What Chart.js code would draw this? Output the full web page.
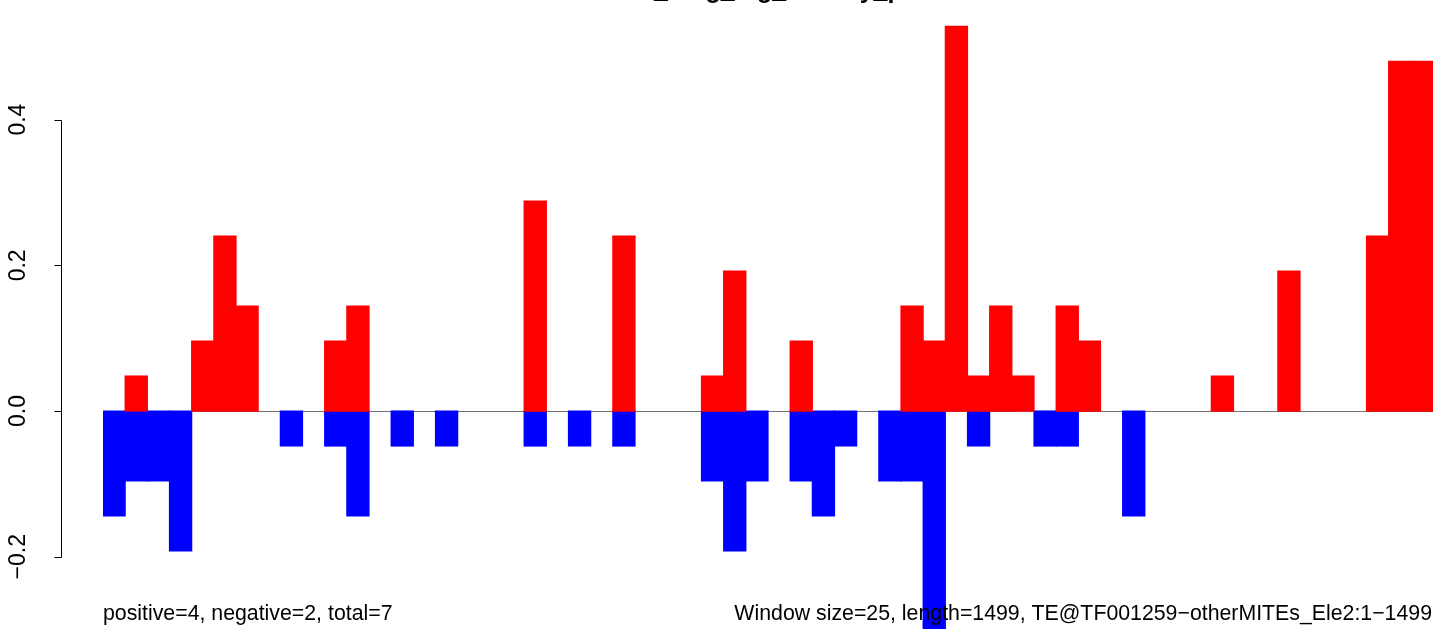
<!DOCTYPE html>
<html>
<head>
<meta charset="utf-8">
<script src="https://cdn.jsdelivr.net/npm/chart.js@4/dist/chart.umd.min.js"></script>
<style>
  html, body { margin: 0; padding: 0; background: #fff; }
  #wrap { width: 1436px; height: 629px; position: relative; }
</style>
</head>
<body>
<div id="wrap"><canvas id="c" width="1436" height="629"></canvas></div>
<script>
/* ---------- data ---------- */
const windowSize = 25;
const seqLength = 1499;
const windowStarts = Array.from({ length: 60 }, (_, i) => i * windowSize + 1);

// positive (red) per window
const positive = [
  0, 0.048, 0, 0, 0.096, 0.24, 0.144, 0, 0, 0,
  0.096, 0.144, 0, 0, 0, 0, 0, 0, 0, 0.288,
  0, 0, 0, 0.24, 0, 0, 0, 0.048, 0.192, 0,
  0, 0.096, 0, 0, 0, 0, 0.144, 0.096, 0.528, 0.048,
  0.144, 0.048, 0, 0.144, 0.096, 0, 0, 0, 0, 0,
  0.048, 0, 0, 0.192, 0, 0, 0, 0.24, 0.48, 0.48,
];
// negative (blue) per window
const negative = [
  -0.144, -0.096, -0.096, -0.192, 0, 0, 0, 0, -0.048, 0,
  -0.048, -0.144, 0, -0.048, 0, -0.048, 0, 0, 0, -0.048,
  0, -0.048, 0, -0.048, 0, 0, 0, -0.096, -0.192, -0.096,
  0, -0.096, -0.144, -0.048, 0, -0.096, -0.096, -0.336, 0, -0.048,
  0, 0, -0.048, -0.048, 0, 0, -0.144, 0, 0, 0,
  0, 0, 0, 0, 0, 0, 0, 0, 0, 0,
];

const yTicks = [-0.2, 0, 0.2, 0.4];
const tickLabels = ["\u22120.2", "0.0", "0.2", "0.4"];
const titleText = "Ele2_long_tag_density_plot";
const leftNote = "positive=4, negative=2, total=7";
const rightNote = `Window size=${windowSize}, length=${seqLength}, TE@TF001259\u2212otherMITEs_Ele2:1\u2212${seqLength}`;

const FONT = '"Liberation Sans", Arial, Helvetica, sans-serif';
const noZero = (arr) => arr.map((v) => (v === 0 ? null : v));

/* ---------- decorations (R base-graphics look) ---------- */
const rDecor = {
  id: "rDecor",
  beforeDatasetsDraw(chart) {
    const { ctx, chartArea: a, scales: { y } } = chart;
    const y0 = Math.round(y.getPixelForValue(0)) + 0.5;
    ctx.save();
    ctx.strokeStyle = "#707070";
    ctx.lineWidth = 1;
    ctx.beginPath();
    ctx.moveTo(a.left, y0);
    ctx.lineTo(a.right, y0);
    ctx.stroke();
    ctx.restore();
  },
  afterDraw(chart) {
    const { ctx, chartArea: a, scales: { y } } = chart;
    ctx.save();
    // y axis
    const ax = 61.5;
    ctx.strokeStyle = "#000";
    ctx.lineWidth = 1;
    ctx.beginPath();
    ctx.moveTo(ax, Math.round(y.getPixelForValue(yTicks[0])) + 0.5);
    ctx.lineTo(ax, Math.round(y.getPixelForValue(yTicks[yTicks.length - 1])) + 0.5);
    yTicks.forEach((t) => {
      const py = Math.round(y.getPixelForValue(t)) + 0.5;
      ctx.moveTo(ax, py);
      ctx.lineTo(ax - 7, py);
    });
    ctx.stroke();

    ctx.fillStyle = "#000";
    ctx.font = `23px ${FONT}`;
    ctx.textAlign = "center";
    ctx.textBaseline = "alphabetic";
    yTicks.forEach((t, i) => {
      ctx.save();
      ctx.translate(25, y.getPixelForValue(t));
      ctx.rotate(-Math.PI / 2);
      ctx.fillText(tickLabels[i], 0, 0);
      ctx.restore();
    });

    // bottom notes
    ctx.font = `21.3px ${FONT}`;
    ctx.textAlign = "left";
    ctx.fillText(leftNote, 103, 620);
    ctx.textAlign = "right";
    ctx.fillText(rightNote, 1432, 620);

    // title, mostly above the top edge
    ctx.font = `bold 25px ${FONT}`;
    ctx.textAlign = "center";
    ctx.fillText(titleText, (a.left + a.right) / 2, -2);
    ctx.restore();
  },
};

/* ---------- chart ---------- */
new Chart(document.getElementById("c"), {
  type: "bar",
  data: {
    labels: windowStarts,
    datasets: [
      { label: "positive", data: noZero(positive), backgroundColor: "#ff0000", borderWidth: 0, inflateAmount: 0.6 },
      { label: "negative", data: noZero(negative), backgroundColor: "#0000ff", borderWidth: 0, inflateAmount: 0.6 },
    ],
  },
  options: {
    responsive: false, animation: false,
    layout: { padding: { left: 103, right: 3, top: 0, bottom: 0 } },
    datasets: { bar: { barPercentage: 1, categoryPercentage: 1 } },
    plugins: { legend: { display: false }, tooltip: { enabled: false }, title: { display: false } },
    scales: {
      x: { display: false, stacked: true },
      y: { display: false, stacked: true, min: -0.2992, max: 0.5642 },
    },
  },
  plugins: [rDecor],
});
</script>
</body>
</html>
